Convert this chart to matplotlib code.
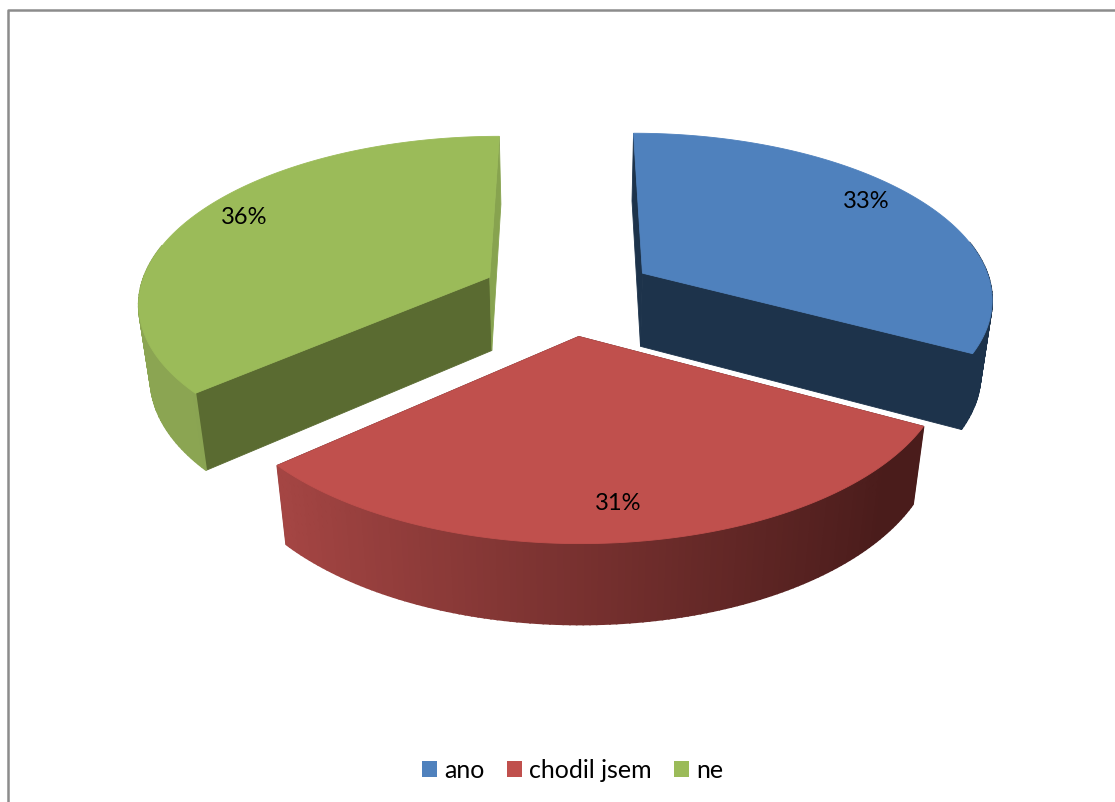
import numpy as np
import matplotlib
matplotlib.use("Agg")
import matplotlib.pyplot as plt
from matplotlib.colors import to_rgb
from matplotlib.patches import Patch

labels = ["ano", "chodil jsem", "ne"]
values = [32.8, 30.7, 36.4]
top_colors = ["#4f81bd", "#c0504d", "#9bbb59"]
cut_colors = ["#1d334b", "#4a1c1b", "#5a6b31"]
# shade of the outer wall, from the left of the pie to the right
wall_left = ["#82a0c8", "#a64644", "#8ba552"]
wall_right = ["#1d334b", "#4a1c1b", "#5a6b31"]
label_pos = [(866, 202), (618, 504), (244, 218)]

# projection of the pie plane to the pixel grid
CX, CY = 568.5, 295
A, B = 351, 165
K = 0.14
HEIGHT = 0.46
M = 0.06
EXPLODE = 0.25


def project(x, y, z):
    s = 1 / (1 + K * y - M * z)
    return CX + A * x * s, CY - (B * y + B * z) * s


plt.rcParams["font.family"] = ["Lato", "DejaVu Sans"]
fig = plt.figure(figsize=(11.15, 8.03), dpi=100)
ax = fig.add_axes([0, 0, 1, 1])
ax.set_xlim(0, 1115)
ax.set_ylim(803, 0)
ax.axis("off")

ax.plot([8, 8, 1115], [803, 10.5, 10.5], color="#8c8c8c", lw=1.8)

fractions = np.cumsum([0] + values) / sum(values) * 2 * np.pi

for i in [0, 2, 1]:
    t0, t1 = fractions[i], fractions[i + 1]
    mid = (t0 + t1) / 2
    ox, oy = EXPLODE * np.sin(mid), EXPLODE * np.cos(mid)
    t = np.linspace(t0, t1, 120)
    rx, ry = ox + np.sin(t), oy + np.cos(t)

    # the two cut faces
    for t_edge, col in [(t0, cut_colors[i]), (t1, cut_colors[i])]:
        ex, ey = ox + np.sin(t_edge), oy + np.cos(t_edge)
        if i == 2 and t_edge == t1:
            col = "#87a34f"
        px, py = project(np.array([ox, ex, ex, ox]), np.array([oy, ey, ey, oy]),
                         np.array([0, 0, -HEIGHT, -HEIGHT]))
        ax.fill(px, py, color=col, lw=0.6)

    # outer wall, one thin strip per step, the far side stays hidden
    c_left, c_right = np.array(to_rgb(wall_left[i])), np.array(to_rgb(wall_right[i]))
    for j in range(len(t) - 1):
        if np.cos(t[j]) > 0.2:
            continue
        xa, ya = project(rx[j], ry[j], 0)
        xb, yb = project(rx[j + 1], ry[j + 1], 0)
        xc, yc = project(rx[j + 1], ry[j + 1], -HEIGHT)
        xd, yd = project(rx[j], ry[j], -HEIGHT)
        shade = np.clip((np.sin(t[j]) * 1.3 + 1) / 2, 0, 1)
        col = c_left + (c_right - c_left) * shade
        ax.fill([xa, xb, xc, xd], [ya, yb, yc, yd], color=col, lw=1.2)

    # top surface
    px, py = project(np.r_[ox, rx], np.r_[oy, ry], 0)
    ax.fill(px, py, color=top_colors[i], lw=0.6)

for v, (x, y) in zip(values, label_pos):
    ax.text(x, y, f"{v:.0f}%", ha="center", va="center", fontsize=17, color="black")

handles = [Patch(facecolor=c, edgecolor="none", label=l) for c, l in zip(top_colors, labels)]
fig.legend(handles=handles, loc="center", bbox_to_anchor=(572.5 / 1115, 1 - 771 / 803), ncol=3,
           frameon=False, fontsize=18, handlelength=0.6, handleheight=0.6,
           handletextpad=0.28, columnspacing=0.9)

fig.savefig("out.png", dpi=100)
